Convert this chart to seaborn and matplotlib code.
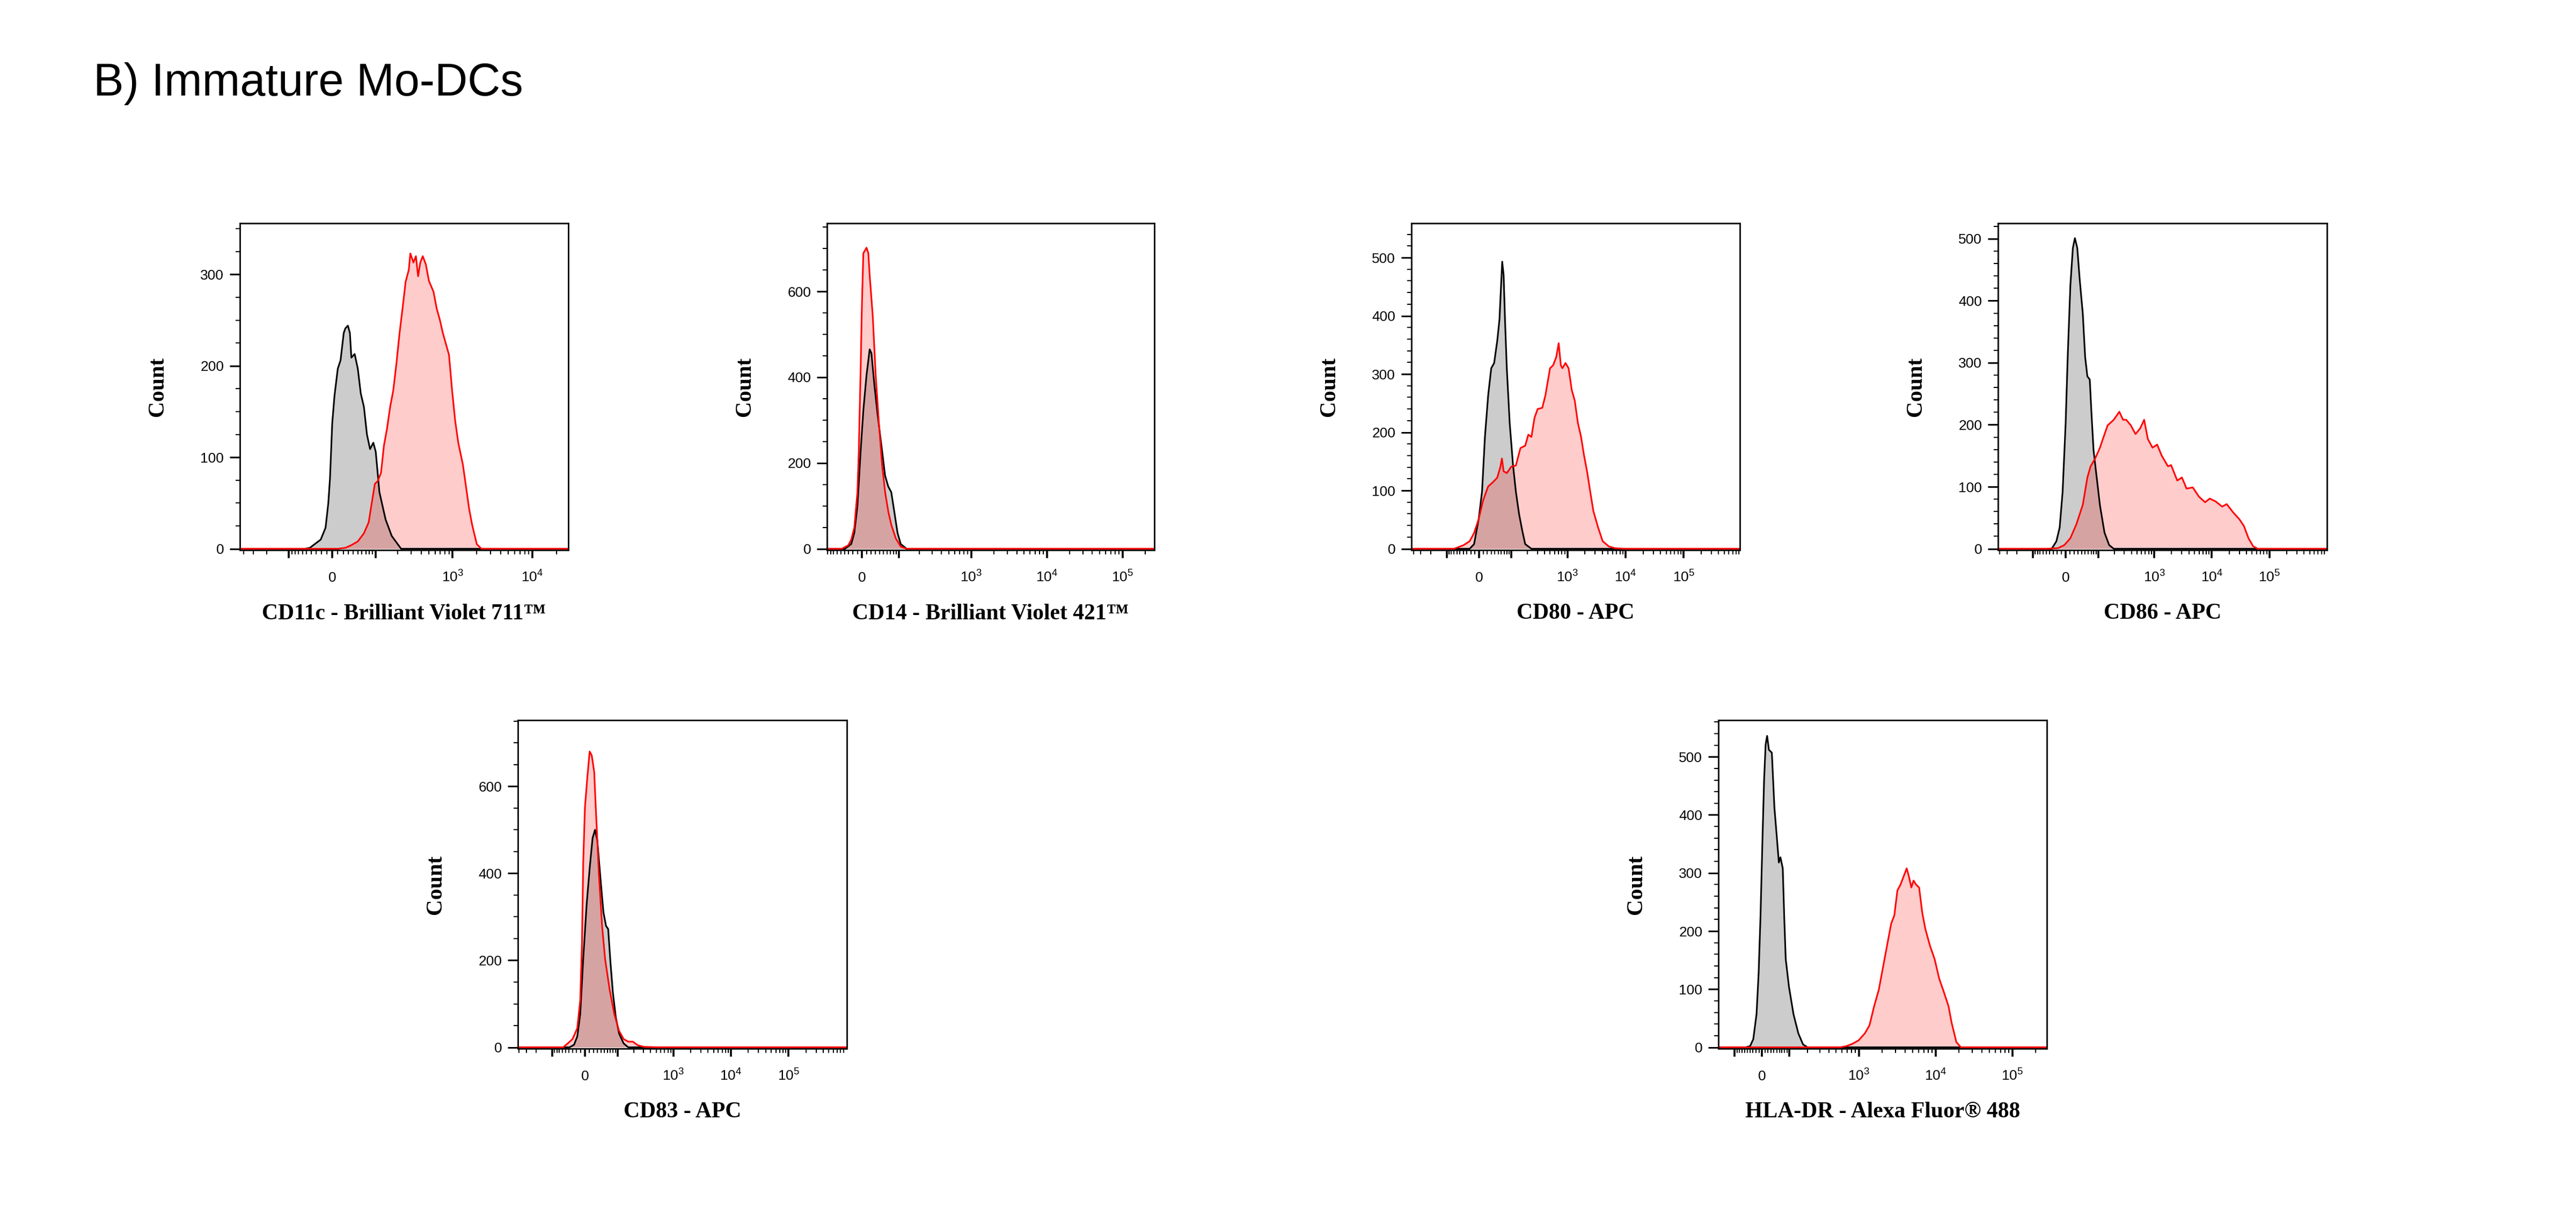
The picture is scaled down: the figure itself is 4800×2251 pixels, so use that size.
import numpy as np
import matplotlib
matplotlib.use("Agg")
import matplotlib.pyplot as plt
import seaborn as sns
from matplotlib.ticker import FixedLocator, MultipleLocator

# ------------------------------------------------------------------
# Data (fluorescence value, count)
# ctrl = grey / black outline, stain = red
# ------------------------------------------------------------------

cd11c_ctrl_x = [-54, -43, -21, -12, -7, -4, 0, 4, 10, 15, 21, 24, 29, 33, 36, 43, 50, 57,
                65, 73, 82, 92, 100, 113, 138, 167, 222]
cd11c_ctrl_y = [0, 1, 10, 23, 50, 77, 137, 167, 197, 206, 236, 241, 244, 236, 209, 213, 197, 170,
                155, 125, 109, 116, 106, 62, 32, 14, 0]
cd11c_stain_x = [10, 24, 36, 50, 65, 78, 87, 97, 107, 119, 131, 144, 159, 175, 193, 212, 232, 254,
                 279, 292, 320, 344, 367, 391, 420, 460, 503, 575, 629, 688, 753, 823, 900, 985,
                 1076, 1177, 1345, 1471, 1608, 1758, 2010, 2298]
cd11c_stain_y = [0, 1, 4, 8, 17, 29, 50, 71, 74, 83, 113, 131, 155, 173, 203, 236, 263, 292,
                 305, 323, 313, 320, 298, 313, 320, 311, 293, 281, 263, 251, 236, 224, 212, 173,
                 140, 116, 92, 68, 44, 26, 5, 0]

cd14_ctrl_x = [-39, -24, -17, -10, -3, 3, 10, 17, 21, 28, 35, 47, 55, 64, 73, 84, 94, 106, 131]
cd14_ctrl_y = [0, 11, 37, 100, 227, 323, 405, 465, 456, 380, 317, 227, 170, 145, 132, 81, 37, 11, 0]
cd14_stain_x = [-47, -31, -24, -17, -10, -7, -3, 0, 3, 10, 14, 17, 24, 31, 39, 47, 55, 64, 73, 88,
                106, 131]
cd14_stain_y = [0, 8, 21, 49, 132, 227, 417, 575, 689, 702, 689, 638, 543, 403, 289, 194, 132, 87,
                56, 24, 5, 0]

cd80_ctrl_x = [-23, -12, -1, 7, 14, 22, 30, 38, 47, 54, 59, 63, 68, 73, 80, 92, 107, 122, 140,
               160, 182, 235]
cd80_ctrl_y = [0, 8, 51, 98, 192, 263, 310, 319, 357, 394, 451, 493, 470, 394, 310, 216, 145, 98,
               60, 32, 8, 0]
cd80_stain_x = [-70, -40, -23, -12, -1, 10, 22, 34, 47, 57, 62, 68, 80, 99, 122, 149, 182, 207,
                235, 267, 303, 365, 413, 498, 563, 637, 703, 766, 815, 922, 1043, 1180, 1334,
                1508, 1705, 1927, 2178, 2462, 2784, 3353, 4029, 5147, 6580, 9510]
cd80_stain_y = [0, 6, 13, 27, 51, 84, 107, 114, 122, 141, 155, 133, 130, 141, 143, 173, 177, 196,
                192, 225, 240, 242, 263, 310, 315, 329, 353, 315, 310, 319, 310, 273, 254,
                216, 193, 160, 132, 98, 65, 37, 13, 4, 1, 0]

cd86_ctrl_x = [-34, -22, -14, -7, 0, 5, 11, 17, 22, 28, 34, 43, 50, 57, 65, 71, 79, 92, 107, 131,
               160, 194]
cd86_ctrl_y = [0, 12, 34, 92, 202, 313, 424, 485, 501, 485, 437, 379, 309, 278, 273, 220, 159,
               115, 70, 26, 6, 0]
cd86_stain_x = [-51, -18, -3, 11, 26, 43, 57, 68, 86, 107, 122, 150, 194, 245, 285, 324, 391,
                472, 568, 668, 775, 934, 1125, 1353, 1735, 1963, 2515, 3029, 3646, 4672, 5986,
                7668, 9230, 11800, 15100, 18200, 23300, 29900, 36000, 43400, 52200, 62900]
cd86_stain_y = [0, 1, 6, 17, 40, 71, 115, 133, 146, 163, 177, 199, 208, 221, 208, 208, 199,
                185, 194, 208, 177, 163, 168, 150, 133, 135, 110, 115, 97, 99, 84,
                75, 81, 76, 68, 72, 59, 48, 37, 17, 4, 0]

cd83_ctrl_x = [-38, -26, -18, -11, -4, 4, 11, 18, 24, 30, 38, 47, 55, 62, 70, 79, 91, 106, 130, 159]
cd83_ctrl_y = [0, 6, 25, 76, 203, 329, 411, 481, 500, 475, 392, 310, 279, 272, 196, 127, 70, 32, 9, 0]
cd83_stain_x = [-57, -43, -30, -18, -11, -7, -4, 0, 5, 11, 16, 22, 26, 34, 43, 52, 67, 85, 106,
                130, 159, 193, 235, 302, 564]
cd83_stain_y = [0, 9, 19, 44, 108, 234, 424, 551, 614, 680, 671, 633, 551, 399, 279, 203, 133,
                76, 38, 19, 13, 13, 5, 1, 0]

hladr_ctrl_x = [-56, -40, -29, -18, -11, -5, 2, 7, 12, 17, 23, 33, 42, 50, 58, 64, 73, 79, 85,
                99, 120, 145, 172, 201]
hladr_ctrl_y = [0, 2, 14, 57, 128, 223, 365, 460, 521, 536, 512, 507, 412, 365, 318, 327, 308,
                223, 152, 104, 57, 24, 5, 0]
hladr_stain_x = [566, 683, 824, 993, 1198, 1377, 1584, 1820, 2094, 2408, 2641, 2900, 3180, 3490,
                 3830, 4200, 4490, 4830, 5160, 5560, 6100, 6690, 7340, 8430, 9690, 11140, 12800,
                 14700, 16100, 18600, 21300]
hladr_stain_y = [0, 2, 6, 12, 24, 38, 71, 99, 142, 185, 213, 227, 270, 280, 294, 308, 294, 275,
                 287, 280, 275, 232, 204, 175, 152, 118, 95, 71, 43, 9, 0]

markers = ["CD11c - Brilliant Violet 711™", "CD14 - Brilliant Violet 421™", "CD80 - APC",
           "CD86 - APC", "CD83 - APC", "HLA-DR - Alexa Fluor® 488"]

# biexponential-like display: linear width, x range, y range per panel
lin_width = [62, 72, 60, 58, 58, 110]
x_ranges = [(-443, 28200), (-92, 264000), (-437, 930000), (-431, 1.0e6), (-422, 1.03e6), (-188, 280000)]
y_tops = [356, 759, 559, 525, 752, 563]
y_major = [100, 200, 100, 100, 200, 100]
y_minor = [25, 50, 20, 20, 50, 20]

# ------------------------------------------------------------------
# Layout (pixel boxes of the axes in the 4800 x 2251 figure)
# ------------------------------------------------------------------

W, H = 4800, 2251
boxes = [(447, 1059, 416, 1025), (1541, 2151, 416, 1025), (2630, 3242, 416, 1025),
         (3723, 4336, 416, 1025), (965, 1578, 1342, 1954), (3202, 3814, 1342, 1954)]

sns.set_style("ticks")
plt.rcParams["font.family"] = ["Liberation Sans", "DejaVu Sans"]
plt.rcParams["mathtext.default"] = "regular"
plt.rcParams["text.color"] = "black"
plt.rcParams["axes.labelcolor"] = "black"

SERIF = ["Liberation Serif", "DejaVu Serif"]


def biex_ticks():
    majors = [-100, 0, 100, 1e3, 1e4, 1e5]
    labels = ["", "0", "", "$10^{3}$", "$10^{4}$", "$10^{5}$"]
    minors = [s * m * 10 for s in (-1, 1) for m in range(1, 10)]
    minors += [s * m * 10 ** k for s in (-1, 1) for k in range(2, 6) for m in range(2, 10)]
    return majors, labels, minors


def draw_panel(ax, ctrl_x, ctrl_y, stain_x, stain_y, width, x_range, y_top, y_maj, y_min, label):
    ax.set_xscale("function",
                  functions=(lambda v: np.arcsinh(np.asarray(v) / width),
                             lambda v: width * np.sinh(np.asarray(v))))

    series = []
    for xs, ys in ((ctrl_x, ctrl_y), (stain_x, stain_y)):
        series.append((np.r_[x_range[0], xs, x_range[1]], np.r_[0, ys, 0]))

    for (xs, ys), colour in zip(series, ("black", "red")):
        ax.fill_between(xs, 0, ys, color=colour, alpha=0.2, linewidth=0)
    for (xs, ys), colour in zip(series, ("black", "red")):
        sns.lineplot(x=xs, y=ys, color=colour, linewidth=2.2, sort=False,
                     estimator=None, ax=ax)

    ax.set_xlim(*x_range)
    ax.set_ylim(-0.004 * y_top, y_top)

    majors, labels, minors = biex_ticks()
    ax.xaxis.set_major_locator(FixedLocator(majors))
    ax.xaxis.set_minor_locator(FixedLocator(minors))
    ax.set_xticklabels(labels)
    for tick in ax.xaxis.get_major_ticks():
        tick.label1.set_verticalalignment("baseline")

    ax.yaxis.set_major_locator(MultipleLocator(y_maj))
    ax.yaxis.set_minor_locator(MultipleLocator(y_min))

    ax.tick_params(axis="both", which="both", colors="black", labelcolor="black")
    ax.tick_params(axis="y", which="major", length=13.5, width=2.2, pad=8, labelsize=19)
    ax.tick_params(axis="y", which="minor", length=5.8, width=1.5)
    ax.tick_params(axis="x", which="major", length=10.8, width=2.6, pad=32, labelsize=19)
    ax.tick_params(axis="x", which="minor", length=5.8, width=1.5)

    for spine in ax.spines.values():
        spine.set_visible(True)
        spine.set_linewidth(2.0)
        spine.set_color("black")

    ax.set_xlabel(label, family=SERIF, fontsize=30, fontweight="bold", labelpad=25)
    ax.set_ylabel("Count", family=SERIF, fontsize=30, fontweight="bold", labelpad=43)


fig = plt.figure(figsize=(48, 22.51), dpi=100)

panels = [
    (cd11c_ctrl_x, cd11c_ctrl_y, cd11c_stain_x, cd11c_stain_y),
    (cd14_ctrl_x, cd14_ctrl_y, cd14_stain_x, cd14_stain_y),
    (cd80_ctrl_x, cd80_ctrl_y, cd80_stain_x, cd80_stain_y),
    (cd86_ctrl_x, cd86_ctrl_y, cd86_stain_x, cd86_stain_y),
    (cd83_ctrl_x, cd83_ctrl_y, cd83_stain_x, cd83_stain_y),
    (hladr_ctrl_x, hladr_ctrl_y, hladr_stain_x, hladr_stain_y),
]

for i, (cx, cy, sx, sy) in enumerate(panels):
    left, right, top, bottom = boxes[i]
    ax = fig.add_axes([left / W, 1 - bottom / H, (right - left) / W, (bottom - top) / H])
    draw_panel(ax, cx, cy, sx, sy, lin_width[i], x_ranges[i], y_tops[i],
               y_major[i], y_minor[i], markers[i])

fig.text(174 / W, 1 - 178 / H, "B) Immature Mo-DCs", fontsize=61, ha="left", va="baseline",
         color="black", family=["Liberation Sans", "DejaVu Sans"])

fig.savefig("out.png", dpi=100, facecolor="white")
